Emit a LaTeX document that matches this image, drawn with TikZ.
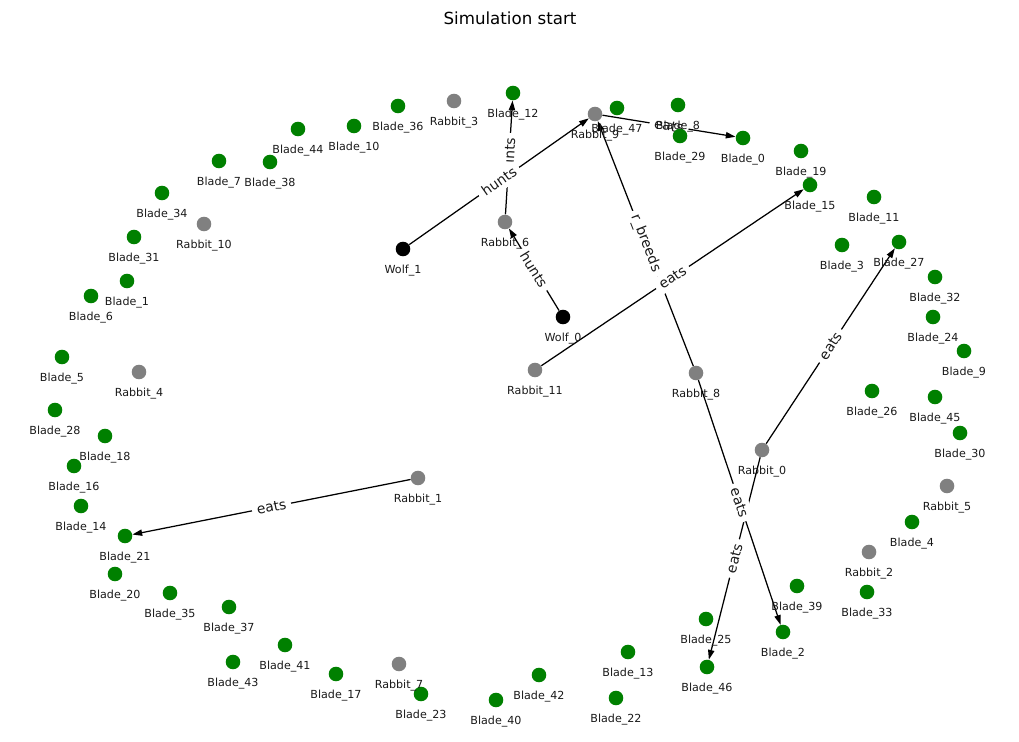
\documentclass[tikz,border=0pt]{standalone}
\usepackage{fontspec}
\setmainfont{DejaVu Sans}
\usetikzlibrary{arrows.meta}
\definecolor{mplgreen}{HTML}{008000}
\definecolor{mplgray}{HTML}{808080}
\pgfdeclarelayer{edgelayer}
\pgfsetlayers{edgelayer,main}
\begin{document}
\begin{tikzpicture}[x=0.72pt,y=-0.72pt,
  nd/.style={circle,inner sep=0pt,minimum size=10.5pt,draw=none},
  blade/.style={nd,fill=mplgreen},
  rab/.style={nd,fill=mplgray},
  wolf/.style={nd,fill=black},
  lab/.style={font=\fontsize{8}{9.6}\selectfont,inner sep=0pt,text=black!90},
  edge/.style={-{Triangle[length=7pt,width=4.5pt]},line width=0.9pt},
  elab/.style={font=\fontsize{10}{12}\selectfont,fill=white,rounded corners=3pt,inner xsep=3.5pt,inner ysep=3pt,sloped,midway,text=black!90},
  ttl/.style={font=\fontsize{12}{14}\selectfont}]
\useasboundingbox (0,0) rectangle (1019,742);
\node[ttl] (title) at (510,18) {Simulation start};
\def\nodelist{
  blade/B36/398/106/Blade\_36,
  blade/B10/354/126/Blade\_10,
  blade/B44/298/129/Blade\_44,
  blade/B7/219/161/Blade\_7,
  blade/B38/270/162/Blade\_38,
  blade/B34/162/193/Blade\_34,
  blade/B31/134/237/Blade\_31,
  blade/B1/127/281/Blade\_1,
  blade/B6/91/296/Blade\_6,
  blade/B5/62/357/Blade\_5,
  blade/B28/55/410/Blade\_28,
  blade/B18/105/436/Blade\_18,
  blade/B16/74/466/Blade\_16,
  blade/B14/81/506/Blade\_14,
  blade/B21/125/536/Blade\_21,
  blade/B20/115/574/Blade\_20,
  blade/B35/170/593/Blade\_35,
  blade/B37/229/607/Blade\_37,
  blade/B43/233/662/Blade\_43,
  blade/B41/285/645/Blade\_41,
  blade/B17/336/674/Blade\_17,
  blade/B23/421/694/Blade\_23,
  blade/B40/496/700/Blade\_40,
  blade/B42/539/675/Blade\_42,
  blade/B13/628/652/Blade\_13,
  blade/B22/616/698/Blade\_22,
  blade/B12/513/93/Blade\_12,
  blade/B47/617/108/Blade\_47,
  blade/B8/678/105/Blade\_8,
  blade/B29/680/136/Blade\_29,
  blade/B0/743/138/Blade\_0,
  blade/B19/801/151/Blade\_19,
  blade/B15/810/185/Blade\_15,
  blade/B11/874/197/Blade\_11,
  blade/B3/842/245/Blade\_3,
  blade/B27/899/242/Blade\_27,
  blade/B32/935/277/Blade\_32,
  blade/B24/933/317/Blade\_24,
  blade/B9/964/351/Blade\_9,
  blade/B26/872/391/Blade\_26,
  blade/B45/935/397/Blade\_45,
  blade/B30/960/433/Blade\_30,
  blade/B4/912/522/Blade\_4,
  blade/B39/797/586/Blade\_39,
  blade/B33/867/592/Blade\_33,
  blade/B25/706/619/Blade\_25,
  blade/B2/783/632/Blade\_2,
  blade/B46/707/667/Blade\_46,
  rab/R0/762/450/Rabbit\_0,
  rab/R1/418/478/Rabbit\_1,
  rab/R2/869/552/Rabbit\_2,
  rab/R3/454/101/Rabbit\_3,
  rab/R4/139/372/Rabbit\_4,
  rab/R5/947/486/Rabbit\_5,
  rab/R6/505/222/Rabbit\_6,
  rab/R7/399/664/Rabbit\_7,
  rab/R8/696/373/Rabbit\_8,
  rab/R9/595/114/Rabbit\_9,
  rab/R10/204/224/Rabbit\_10,
  rab/R11/535/370/Rabbit\_11,
  wolf/W0/563/317/Wolf\_0,
  wolf/W1/403/249/Wolf\_1}
\foreach \s/\n/\x/\y/\t in \nodelist {
  \node[\s] (\n) at (\x,\y) {};
}
\foreach \s/\n/\x/\y/\t in \nodelist {
  \node[lab] (L\n) at (\x,\y+21.5) {\t};
}
\begin{pgfonlayer}{edgelayer}
  \draw[edge] (W1) -- (R9);
  \draw[edge] (R6) -- (B12);
  \draw[edge] (W0) -- (R6);
  \draw[edge] (R11) -- (B15);
  \draw[edge] (R8) -- (R9);
  \draw[edge] (R9) -- (B0);
  \draw[edge] (R0) -- (B27);
  \draw[edge] (R0) -- (B46);
  \draw[edge] (R8) -- (B2);
  \draw[edge] (R1) -- (B21);
  \path (R6) -- node[elab] (e2) {hunts} (B12);
  \path (W1) -- node[elab] (e1) {hunts} (R9);
  \path (W0) -- node[elab] (e3) {hunts} (R6);
  \path (R11) -- node[elab] (e4) {eats} (B15);
  \path (R8) -- node[elab] (e5) {r\_breeds} (R9);
  \path (R9) -- node[elab] (e6) {eats} (B0);
  \path (R0) -- node[elab] (e7) {eats} (B27);
  \path (R0) -- node[elab] (e8) {eats} (B46);
  \path (R8) -- node[elab] (e9) {eats} (B2);
  \path (R1) -- node[elab] (e10) {eats} (B21);
\end{pgfonlayer}
\end{tikzpicture}
\end{document}
